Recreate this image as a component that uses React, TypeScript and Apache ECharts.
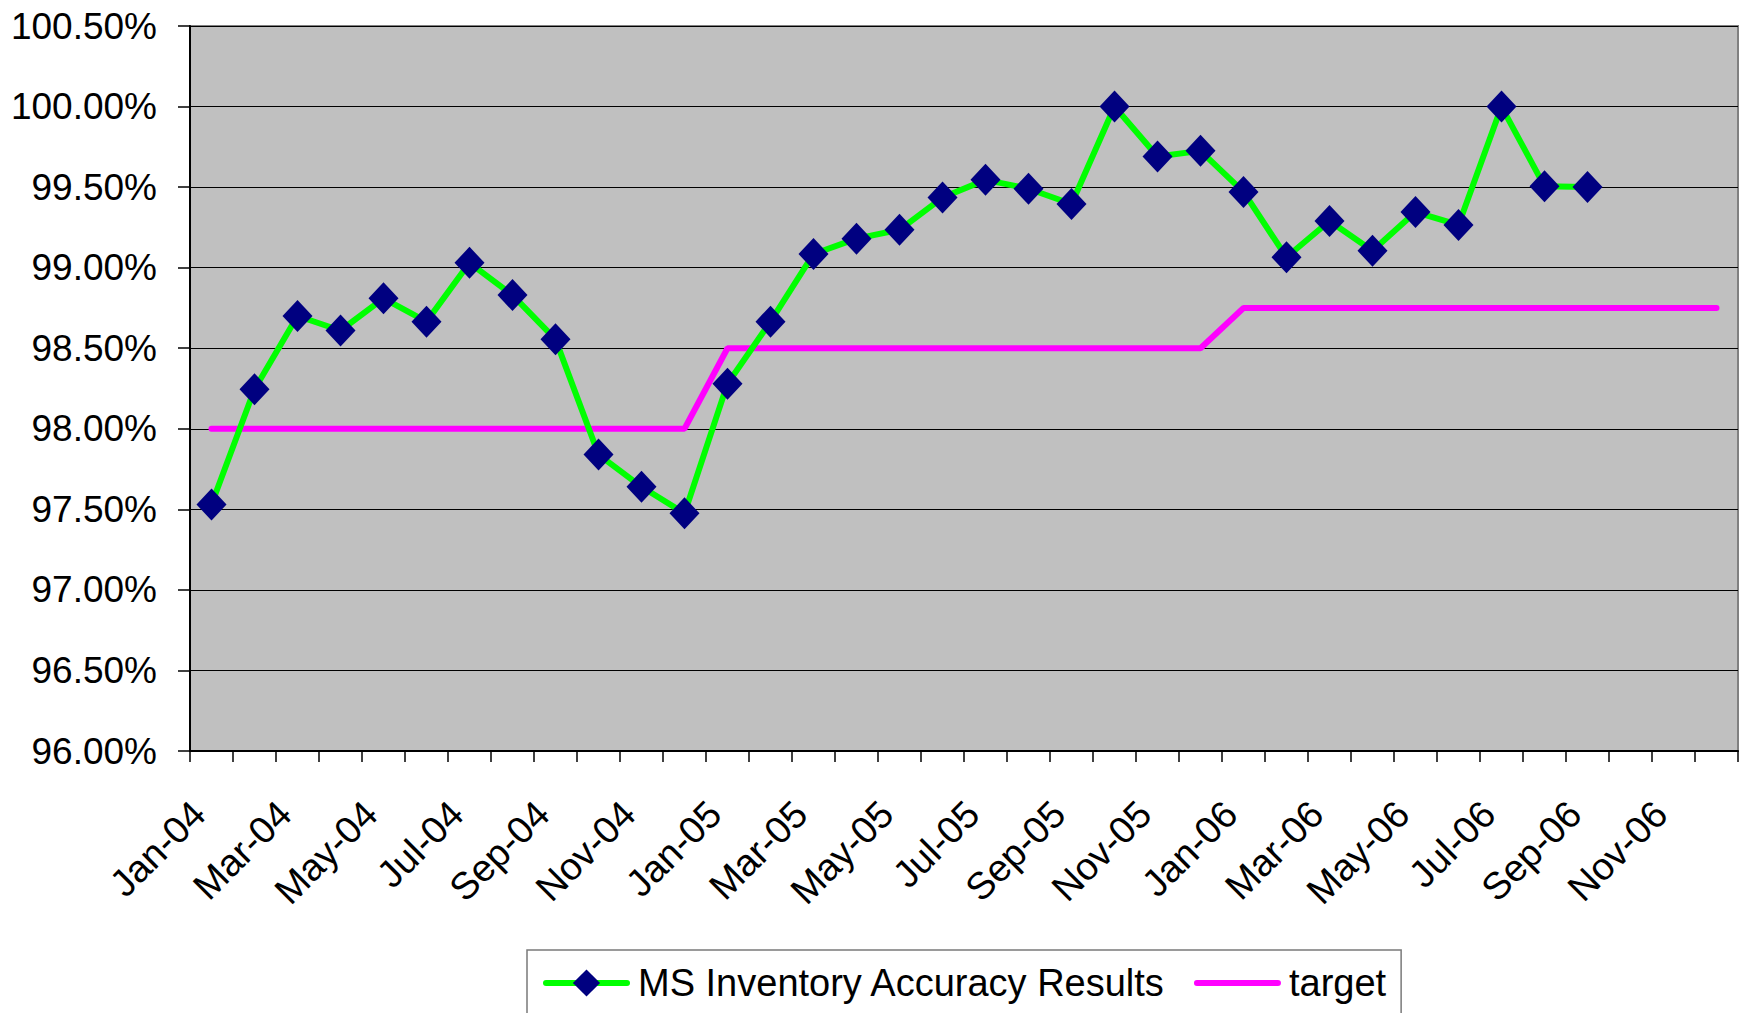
import React, { useEffect, useRef } from "react";
import * as echarts from "echarts";

const months = [
  "Jan-04","Feb-04","Mar-04","Apr-04","May-04","Jun-04","Jul-04","Aug-04","Sep-04","Oct-04","Nov-04","Dec-04",
  "Jan-05","Feb-05","Mar-05","Apr-05","May-05","Jun-05","Jul-05","Aug-05","Sep-05","Oct-05","Nov-05","Dec-05",
  "Jan-06","Feb-06","Mar-06","Apr-06","May-06","Jun-06","Jul-06","Aug-06","Sep-06","Oct-06","Nov-06","Dec-06",
];

const accuracy = [
  97.53, 98.245, 98.70, 98.61, 98.81, 98.665, 99.03, 98.83, 98.555, 97.84, 97.64, 97.475,
  98.28, 98.665, 99.085, 99.18, 99.235, 99.435, 99.545, 99.49, 99.395, 100.0, 99.69, 99.725,
  99.47, 99.065, 99.29, 99.105, 99.345, 99.265, 100.0, 99.505, 99.5,
];

const target = [
  98, 98, 98, 98, 98, 98, 98, 98, 98, 98, 98, 98,
  98.5, 98.5, 98.5, 98.5, 98.5, 98.5, 98.5, 98.5, 98.5, 98.5, 98.5, 98.5,
  98.75, 98.75, 98.75, 98.75, 98.75, 98.75, 98.75, 98.75, 98.75, 98.75, 98.75, 98.75,
];

const seriesNames = ["MS Inventory Accuracy Results", "target"];

const FONT = "'Liberation Sans', Arial, sans-serif";

export default function App() {
  const ref = useRef<HTMLDivElement>(null);

  useEffect(() => {
    if (!ref.current) return;
    const chart = echarts.init(ref.current, null, { renderer: "svg" });
    chart.setOption({
      animation: false,
      backgroundColor: "#ffffff",
      textStyle: { fontFamily: FONT, color: "#000" },
      grid: {
        left: 190,
        right: 10,
        top: 26,
        bottom: 262,
        show: true,
        backgroundColor: "#C0C0C0",
        borderColor: "#808080",
        borderWidth: 2,
      },
      legend: {
        left: 527,
        top: 950,
        orient: "horizontal",
        padding: [14, 15, 14, 16],
        itemGap: 28,
        itemWidth: 81,
        itemHeight: 34,
        borderColor: "#7a7a7a",
        borderWidth: 1.5,
        backgroundColor: "#ffffff",
        textStyle: { fontFamily: FONT, fontSize: 38, color: "#000", padding: [0, 0, 0, 6] },
        lineStyle: { width: 6, cap: "round" },
        data: [
          { name: seriesNames[0] },
          { name: seriesNames[1], itemStyle: { opacity: 0, color: "transparent", borderWidth: 0 } },
        ],
      },
      xAxis: {
        type: "category",
        data: months,
        boundaryGap: true,
        axisLine: { show: true, lineStyle: { color: "#000", width: 2 } },
        axisTick: { show: true, interval: 0, length: 11, lineStyle: { color: "#000", width: 1.5 } },
        axisLabel: {
          interval: 1,
          rotate: 45,
          margin: 44,
          padding: [0, 18, 0, 0],
          fontSize: 38,
          fontFamily: FONT,
          color: "#000",
        },
        splitLine: { show: false },
      },
      yAxis: {
        type: "value",
        min: 96,
        max: 100.5,
        interval: 0.5,
        axisLine: { show: true, lineStyle: { color: "#000", width: 2 } },
        axisTick: { show: true, length: 12, lineStyle: { color: "#000", width: 1.5 } },
        axisLabel: {
          margin: 33,
          fontSize: 37,
          fontFamily: FONT,
          color: "#000",
          formatter: (v: number) => v.toFixed(2) + "%",
        },
        splitLine: { show: true, lineStyle: { color: "#000", width: 1 } },
      },
      series: [
        {
          name: seriesNames[0],
          type: "line",
          data: accuracy,
          symbol: "diamond",
          symbolSize: [30, 32],
          showAllSymbol: true,
          itemStyle: { color: "#000080" },
          lineStyle: { color: "#00FF00", width: 6 },
          z: 3,
        },
        {
          name: seriesNames[1],
          type: "line",
          data: target,
          symbol: "none",
          itemStyle: { color: "#FF00FF" },
          lineStyle: { color: "#FF00FF", width: 6, cap: "round" },
          z: 2,
        },
      ],
    });
    return () => chart.dispose();
  }, []);

  return (
    <div
      ref={ref}
      style={{ position: "fixed", left: 0, top: 0, width: 1748, height: 1013, background: "#fff" }}
    />
  );
}
